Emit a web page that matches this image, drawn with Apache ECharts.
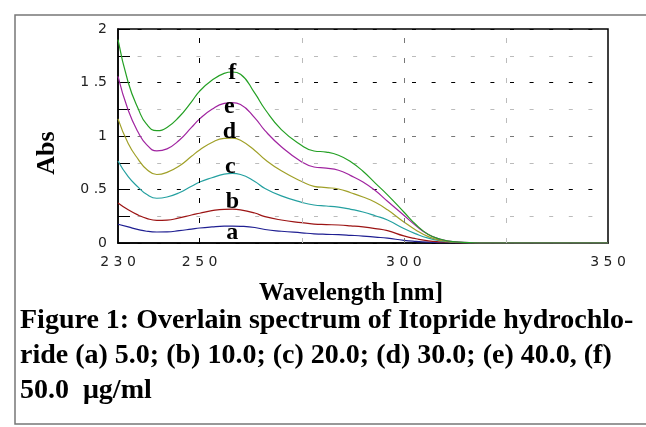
<!DOCTYPE html>
<html>
<head>
<meta charset="utf-8">
<script src="https://cdn.jsdelivr.net/npm/echarts@6/dist/echarts.min.js"></script>
<style>
  html, body { margin: 0; padding: 0; background: #fff; }
  #chart { width: 646px; height: 427px; }
</style>
</head>
<body>
<div id="chart"></div>
<script>
// wavelength (nm)
const wavelength = [230, 232.5, 235, 237, 239.5, 242, 245, 248, 250, 253, 256, 258, 260, 263.5, 266, 270, 275, 278, 281, 284, 287, 290, 293, 296, 300, 303, 306, 309, 312, 316, 320, 335, 350];

// absorbance of each concentration
const absA = [0.175, 0.15, 0.125, 0.11, 0.103, 0.104, 0.115, 0.13, 0.14, 0.15, 0.157, 0.158, 0.156, 0.145, 0.126, 0.11, 0.095, 0.086, 0.081, 0.078, 0.072, 0.065, 0.055, 0.045, 0.025, 0.015, 0.008, 0.004, 0.002, 0, 0, 0, 0];
const absB = [0.374, 0.31, 0.26, 0.23, 0.212, 0.214, 0.235, 0.262, 0.278, 0.302, 0.315, 0.316, 0.31, 0.28, 0.246, 0.215, 0.19, 0.177, 0.172, 0.168, 0.16, 0.15, 0.135, 0.115, 0.066, 0.04, 0.02, 0.01, 0.004, 0.001, 0, 0, 0];
const absC = [0.767, 0.62, 0.52, 0.455, 0.418, 0.43, 0.47, 0.53, 0.57, 0.61, 0.643, 0.65, 0.64, 0.575, 0.51, 0.44, 0.38, 0.355, 0.346, 0.335, 0.315, 0.29, 0.255, 0.215, 0.135, 0.085, 0.045, 0.02, 0.008, 0.002, 0, 0, 0];
const absD = [1.16, 0.93, 0.78, 0.69, 0.64, 0.66, 0.72, 0.81, 0.87, 0.94, 0.978, 0.98, 0.96, 0.865, 0.78, 0.675, 0.575, 0.53, 0.518, 0.505, 0.47, 0.43, 0.38, 0.31, 0.197, 0.12, 0.06, 0.025, 0.01, 0.003, 0, 0, 0];
const absE = [1.557, 1.24, 1.03, 0.92, 0.861, 0.88, 0.96, 1.08, 1.16, 1.25, 1.305, 1.312, 1.295, 1.17, 1.05, 0.9, 0.758, 0.71, 0.70, 0.68, 0.63, 0.57, 0.49, 0.39, 0.26, 0.16, 0.08, 0.035, 0.012, 0.004, 0, 0, 0];
const absF = [1.90, 1.50, 1.25, 1.11, 1.05, 1.08, 1.18, 1.32, 1.42, 1.52, 1.585, 1.598, 1.578, 1.40, 1.25, 1.06, 0.912, 0.86, 0.85, 0.82, 0.76, 0.67, 0.56, 0.45, 0.29, 0.17, 0.08, 0.035, 0.012, 0.004, 0, 0, 0];

const curveNames = ['a', 'b', 'c', 'd', 'e', 'f'];
const labelWavelength = 258;

// ticks
const xTickValues = [230, 250, 300, 350];
const xTickText = ['2 3 0', '2 5 0', '3 0 0', '3 5 0'];
const xGridValues = [250, 275, 300, 325];
const yTickValues = [0, 0.5, 1, 1.5, 2];
const yTickText = ['0', '0 .5', '1', '1 .5', '2'];

const captionLines = [
    'Figure 1: Overlain spectrum of Itopride hydrochlo-',
    'ride (a) 5.0; (b) 10.0; (c) 20.0; (d) 30.0; (e) 40.0, (f)',
    '50.0  \u03bcg/ml'
];

const allAbs = [absA, absB, absC, absD, absE, absF];
const colors = ['#1f1f92', '#9c1414', '#24a0a0', '#a0a028', '#a024a0', '#24a024'];
const labelShift = [[0, 7], [0, -7], [-2, -7], [-3, -6], [-3, 4], [0, 1]];
const xGridColors = ['#000', '#bbb', '#777', '#bbb'];

const chart = echarts.init(document.getElementById('chart'));
const serifBold = '"Liberation Serif", "DejaVu Serif", serif';

const lineSeries = allAbs.map((vals, i) => {
    const s = {
        name: curveNames[i],
        type: 'line',
        data: wavelength.map((w, k) => [w, vals[k]]),
        smooth: true,
        showSymbol: false,
        lineStyle: {color: colors[i], width: 1.2},
        itemStyle: {color: colors[i]},
        z: 3,
        animation: false
    };
    if (i === 0) {
        s.markLine = {
            silent: true,
            symbol: 'none',
            label: {show: false},
            animation: false,
            data: xGridValues.map((v, k) => ({
                xAxis: v,
                lineStyle: {color: xGridColors[k], type: [5, 15], width: 1}
            }))
        };
    }
    return s;
});

// letters a-f sitting on each curve's peak
const labelSeries = {
    type: 'scatter',
    symbolSize: 0,
    z: 4,
    animation: false,
    itemStyle: {opacity: 1},
    data: allAbs.map((vals, i) => ({
        value: [labelWavelength, vals[wavelength.indexOf(labelWavelength)]],
        label: {
            show: true,
            position: 'inside',
            offset: labelShift[i],
            formatter: curveNames[i],
            fontFamily: serifBold,
            fontWeight: 'bold',
            fontSize: 24,
            color: '#000',
            opacity: 1,
            textBorderWidth: 0
        }
    }))
};

const option = {
    animation: false,
    grid: {
        left: 118, top: 29, right: 38, bottom: 184,
        show: true, borderColor: '#000', borderWidth: 1.5, backgroundColor: 'transparent'
    },
    xAxis: {
        type: 'value',
        min: 230, max: 350, interval: 10,
        axisLine: {lineStyle: {color: '#000', width: 1.5}},
        axisTick: {show: false},
        splitLine: {show: false},
        axisLabel: {
            margin: 12,
            fontFamily: 'DejaVu Sans',
            fontSize: 14,
            color: '#222',
            formatter: v => {
                const k = xTickValues.indexOf(v);
                return k >= 0 ? xTickText[k] : '';
            }
        },
        name: 'Wavelength [nm]',
        nameLocation: 'middle',
        nameGap: 38,
        nameTextStyle: {
            fontFamily: serifBold, fontWeight: 'bold', fontSize: 25, color: '#000',
            padding: [0, 24, 0, 0]
        }
    },
    yAxis: {
        type: 'value',
        min: 0, max: 2, interval: 0.25,
        axisLine: {lineStyle: {color: '#000', width: 1.5}},
        axisTick: {show: true, inside: true, length: 12, lineStyle: {color: '#000'}},
        splitLine: {
            show: true,
            lineStyle: {
                color: ['#000', '#bbb', '#000', '#bbb', '#777', '#bbb', '#000', '#bbb', '#000'],
                type: [4, 15.6],
                width: 1
            }
        },
        axisLabel: {
            margin: 11,
            fontFamily: 'DejaVu Sans',
            fontSize: 14,
            color: '#222',
            formatter: v => {
                const k = yTickValues.indexOf(v);
                return k >= 0 ? yTickText[k] : '';
            }
        }
    },
    graphic: [
        {
            type: 'rect', silent: true, z: -1,
            shape: {x: 15, y: 15, width: 640, height: 409},
            style: {fill: 'none', stroke: '#777', lineWidth: 1.5}
        },
        {
            type: 'text', x: 47, y: 153, rotation: Math.PI / 2,
            style: {
                text: 'Abs', font: 'bold 26px ' + serifBold, fill: '#000',
                align: 'center', verticalAlign: 'middle'
            }
        },
        ...captionLines.map((t, i) => ({
            type: 'text', x: 20, y: 321 + i * 35,
            style: {
                text: t, font: 'bold 28px ' + serifBold, fill: '#000',
                align: 'left', verticalAlign: 'middle'
            }
        }))
    ],
    series: [...lineSeries, labelSeries]
};

chart.setOption(option);
</script>
</body>
</html>
